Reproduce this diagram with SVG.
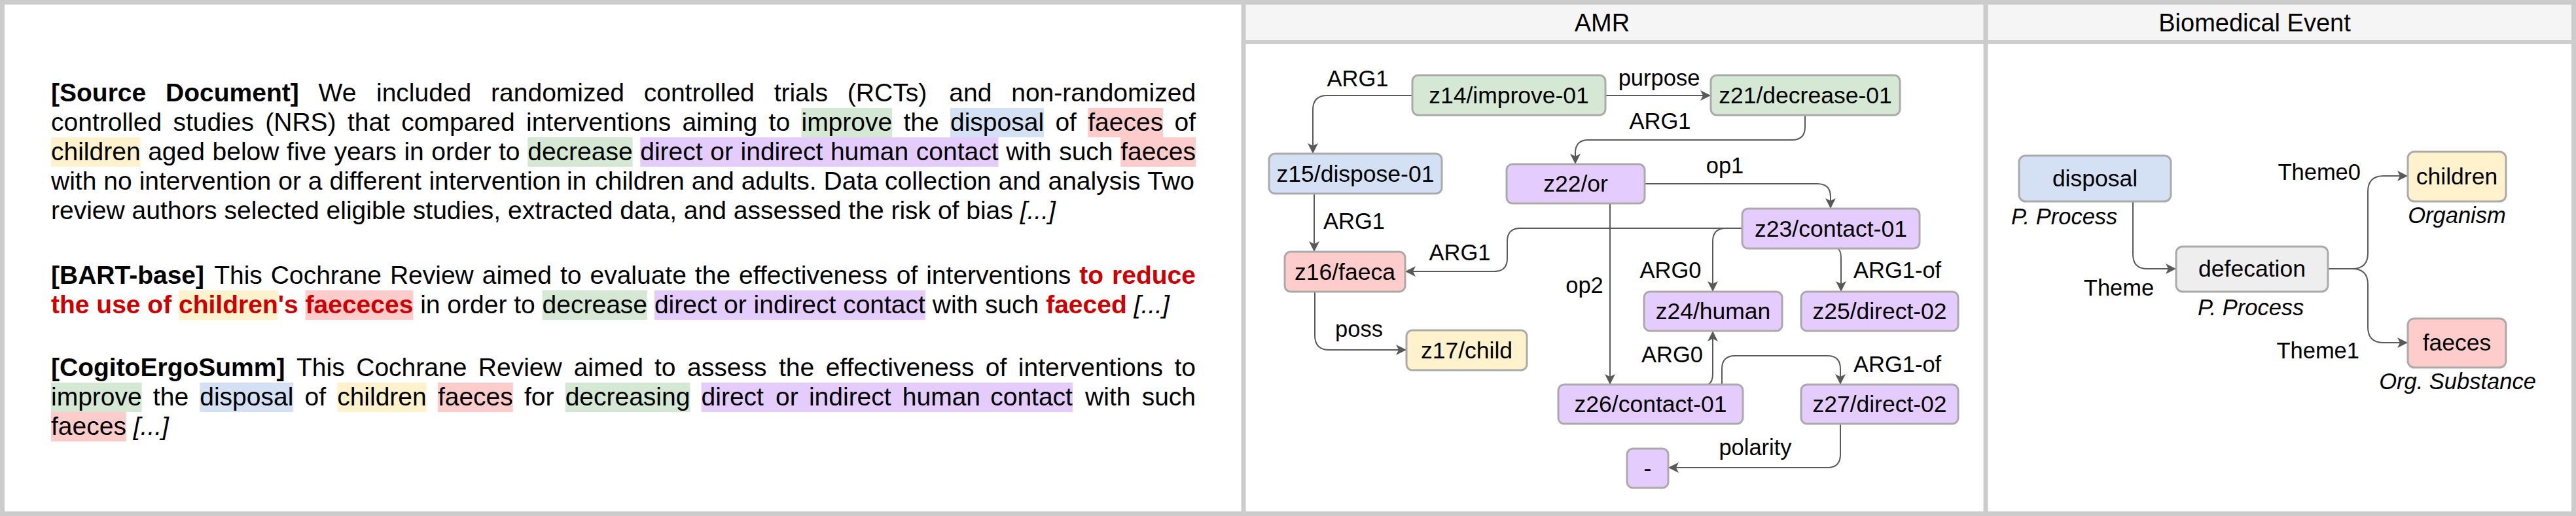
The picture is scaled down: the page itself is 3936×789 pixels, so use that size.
<svg xmlns="http://www.w3.org/2000/svg" width="3936" height="789" viewBox="0 0 3936 789">
<style>
.t{font-family:"Liberation Sans",Arial,sans-serif;font-size:39px;fill:#000}
.b{font-weight:bold}
.i{font-style:italic}
.red{fill:#cc0000;font-weight:bold}
.nt{font-family:"Liberation Sans",Arial,sans-serif;font-size:35.5px;fill:#000;text-anchor:middle}
.lb{font-family:"Liberation Sans",Arial,sans-serif;font-size:34.5px;fill:#000}
.mid{text-anchor:middle}
.end{text-anchor:end}
.hd{font-family:"Liberation Sans",Arial,sans-serif;font-size:38px;fill:#000;text-anchor:middle}
.node{stroke:#aaaaaa;stroke-width:3}
.edge{fill:none;stroke:#595959;stroke-width:2;marker-end:url(#arr)}
.g{fill:#d5e8d4}.bl{fill:#d4e1f5}.r{fill:#ffcccc}.y{fill:#fff2cc}.p{fill:#e5ccff}.gr{fill:#eeeeee}
</style>
<defs>
<marker id="arr" viewBox="0 0 16 16" refX="16" refY="8" markerWidth="16" markerHeight="16" markerUnits="userSpaceOnUse" orient="auto"><path d="M0,0 L16,8 L0,16 L4,8 Z" fill="#595959"/></marker>
</defs>
<rect x="0" y="0" width="3936" height="789" fill="#ffffff"/>
<rect x="1903" y="7" width="2027" height="54" fill="#f5f5f5"/>
<g id="frame" fill="none" stroke="#cccccc">
<rect x="3.5" y="3.5" width="3929" height="782" stroke-width="7"/>
<line x1="1900" y1="0" x2="1900" y2="789" stroke-width="7"/>
<line x1="3034" y1="0" x2="3034" y2="789" stroke-width="7"/>
<line x1="1900" y1="64" x2="3936" y2="64" stroke-width="6"/>
</g>
<text class="hd" x="2448" y="48">AMR</text>
<text class="hd" x="3445" y="48">Biomedical Event</text>

<g id="text-panel">
<g id="highlights">
<rect class="g" x="1224.48" y="165" width="138.68" height="45"/>
<rect class="bl" x="1452.03" y="165" width="143.05" height="45"/>
<rect class="r" x="1662.27" y="165" width="114.89" height="45"/>
<rect class="y" x="78" y="210" width="136.54" height="45"/>
<rect class="g" x="806.21" y="210" width="160.41" height="45"/>
<rect class="p" x="978.26" y="210" width="547.25" height="45"/>
<rect class="r" x="1712.14" y="210" width="114.89" height="45"/>
<rect class="y" x="273.04" y="444" width="151.71" height="45"/>
<rect class="r" x="466.56" y="444" width="164.78" height="45"/>
<rect class="g" x="828.60" y="444" width="160.41" height="45"/>
<rect class="p" x="999.85" y="444" width="413.99" height="45"/>
<rect class="g" x="78" y="585" width="138.68" height="45"/>
<rect class="bl" x="305.24" y="585" width="143.05" height="45"/>
<rect class="y" x="515.17" y="585" width="136.54" height="45"/>
<rect class="r" x="668.88" y="585" width="114.89" height="45"/>
<rect class="g" x="863.64" y="585" width="190.75" height="45"/>
<rect class="p" x="1071.56" y="585" width="567.40" height="45"/>
<rect class="r" x="78" y="630" width="114.89" height="45"/>
</g>
<g id="source">
<text class="t" y="155"><tspan x="78" class="b">[Source</tspan><tspan x="253.07" class="b">Document]</tspan><tspan x="486.60">We</tspan><tspan x="574.97">included</tspan><tspan x="750.08">randomized</tspan><tspan x="983.69">controlled</tspan><tspan x="1182.63">trials</tspan><tspan x="1294.83">(RCTs)</tspan><tspan x="1450.32">and</tspan><tspan x="1545.24">non-randomized</tspan></text>
<text class="t" y="200"><tspan x="78">controlled</tspan><tspan x="264.40">studies</tspan><tspan x="405.28">(NRS)</tspan><tspan x="530.91">that</tspan><tspan x="613.29">compared</tspan><tspan x="804.01">interventions</tspan><tspan x="1042.43">aiming</tspan><tspan x="1174.62">to</tspan><tspan x="1224.48">improve</tspan><tspan x="1380.49">the</tspan><tspan x="1452.03">disposal</tspan><tspan x="1612.41">of</tspan><tspan x="1662.27">faeces</tspan><tspan x="1794.49">of</tspan></text>
<text class="t" y="245"><tspan x="78">children</tspan><tspan x="226.18">aged</tspan><tspan x="324.56">below</tspan><tspan x="438.07">five</tspan><tspan x="510.39">years</tspan><tspan x="617.39">in</tspan><tspan x="659.37">order</tspan><tspan x="762.04">to</tspan><tspan x="806.21">decrease</tspan><tspan x="978.26">direct</tspan><tspan x="1085.26">or</tspan><tspan x="1131.57">indirect</tspan><tspan x="1268.91">human</tspan><tspan x="1399.77">contact</tspan><tspan x="1537.15">with</tspan><tspan x="1618.13">such</tspan><tspan x="1712.14">faeces</tspan></text>
<text class="t" y="290"><tspan x="78">with</tspan><tspan x="158.31">no</tspan><tspan x="212.64">intervention</tspan><tspan x="425.20">or</tspan><tspan x="470.84">a</tspan><tspan x="503.50">different</tspan><tspan x="655.39">intervention</tspan><tspan x="865.92">in</tspan><tspan x="909.24">children</tspan><tspan x="1056.74">and</tspan><tspan x="1132.76">adults.</tspan><tspan x="1258.62">Data</tspan><tspan x="1351.95">collection</tspan><tspan x="1525.47">and</tspan><tspan x="1601.49">analysis</tspan><tspan x="1753.33">Two</tspan></text>
<text class="t" x="78" y="335">review authors selected eligible studies, extracted data, and assessed the risk of bias <tspan class="i">[...]</tspan></text>
</g>
<g id="bart">
<text class="t" y="434"><tspan x="78" class="b">[BART-base]</tspan><tspan x="327.15">This</tspan><tspan x="413.82">Cochrane</tspan><tspan x="595.88">Review</tspan><tspan x="736.72">aimed</tspan><tspan x="855.92">to</tspan><tspan x="901.45">evaluate</tspan><tspan x="1061.87">the</tspan><tspan x="1129.07">effectiveness</tspan><tspan x="1369.68">of</tspan><tspan x="1415.21">interventions</tspan><tspan x="1649.30" class="red">to</tspan><tspan x="1699.11" class="red">reduce</tspan></text>
<text class="t" x="78" y="479"><tspan class="red">the use of children's faececes</tspan> in order to decrease direct or indirect contact with such <tspan class="red">faeced</tspan> <tspan class="i">[...]</tspan></text>
</g>
<g id="cogito">
<text class="t" y="575"><tspan x="78" class="b">[CogitoErgoSumm]</tspan><tspan x="453.01">This</tspan><tspan x="544.22">Cochrane</tspan><tspan x="730.81">Review</tspan><tspan x="876.66">aimed</tspan><tspan x="999.93">to</tspan><tspan x="1050.00">assess</tspan><tspan x="1189.91">the</tspan><tspan x="1261.66">effectiveness</tspan><tspan x="1505.78">of</tspan><tspan x="1555.84">interventions</tspan><tspan x="1794.47">to</tspan></text>
<text class="t" y="620"><tspan x="78">improve</tspan><tspan x="233.86">the</tspan><tspan x="305.24">disposal</tspan><tspan x="465.47">of</tspan><tspan x="515.17">children</tspan><tspan x="668.88">faeces</tspan><tspan x="800.95">for</tspan><tspan x="863.64">decreasing</tspan><tspan x="1071.56">direct</tspan><tspan x="1185.09">or</tspan><tspan x="1235.93">indirect</tspan><tspan x="1378.80">human</tspan><tspan x="1513.22">contact</tspan><tspan x="1658.11">with</tspan><tspan x="1744.63">such</tspan></text>
<text class="t" x="78" y="665">faeces <tspan class="i">[...]</tspan></text>
</g>
</g>

<g id="connectors">
<path class="edge" d="M2158,146 H2028 Q2006,146 2006,168 V235"/>
<path class="edge" d="M2453,146 H2614"/>
<path class="edge" d="M2758,176 V194 Q2758,214 2738,214 H2427 Q2407,214 2407,234 V251"/>
<path class="edge" d="M2008,296 V385"/>
<path class="edge" d="M2513,281 H2777 Q2797,281 2797,301 V319"/>
<path class="edge" d="M2460,311 V588"/>
<path class="edge" d="M2662,349 H2323 Q2303,349 2303,369 V395 Q2303,415 2283,415 H2147"/>
<path class="edge" d="M2662,349 H2637 Q2617,349 2617,369 V446"/>
<path class="edge" d="M2808,380 Q2813,383 2813,395 V446"/>
<path class="edge" d="M2009,446 V513 Q2009,535 2031,535 H2149"/>
<path class="edge" d="M2610,588 Q2617,584 2617,572 V506"/>
<path class="edge" d="M2631,588 V564 Q2631,544 2651,544 H2792 Q2812,544 2812,564 V588"/>
<path class="edge" d="M2812,648 V695 Q2812,715 2792,715 H2549"/>
<path class="edge" d="M3259,308 V389 Q3259,411 3281,411 H3325"/>
<path class="edge" d="M3557,411 H3594 Q3618,411 3618,387 V293 Q3618,269 3642,269 H3679"/>
<path class="edge" d="M3557,411 H3594 Q3618,411 3618,435 V500 Q3618,524 3642,524 H3679"/>
<text class="lb mid" x="2074.5" y="132">ARG1</text>
<text class="lb mid" x="2535" y="131">purpose</text>
<text class="lb mid" x="2536.5" y="197">ARG1</text>
<text class="lb mid" x="2069" y="350">ARG1</text>
<text class="lb mid" x="2635.5" y="265">op1</text>
<text class="lb mid" x="2421" y="448">op2</text>
<text class="lb mid" x="2230.5" y="398">ARG1</text>
<text class="lb mid" x="2552.5" y="425">ARG0</text>
<text class="lb" x="2832" y="425">ARG1-of</text>
<text class="lb mid" x="2076.5" y="515">poss</text>
<text class="lb mid" x="2555" y="554">ARG0</text>
<text class="lb" x="2832" y="569">ARG1-of</text>
<text class="lb mid" x="2682" y="696">polarity</text>
<text class="lb mid" x="3237.5" y="452">Theme</text>
<text class="lb end" x="3607" y="275">Theme0</text>
<text class="lb end" x="3605" y="548">Theme1</text>
</g>

<g id="z14"><rect class="node g" x="2158" y="115" width="295" height="61" rx="9"/><text class="nt" x="2305.5" y="157.5">z14/improve-01</text></g>
<g id="z21"><rect class="node g" x="2614" y="115" width="289" height="61" rx="9"/><text class="nt" x="2758.5" y="157.5">z21/decrease-01</text></g>
<g id="z15"><rect class="node bl" x="1939" y="235" width="264" height="61" rx="9"/><text class="nt" x="2071" y="277.5">z15/dispose-01</text></g>
<g id="z22"><rect class="node p" x="2302" y="251" width="211" height="60" rx="9"/><text class="nt" x="2407.5" y="293">z22/or</text></g>
<g id="z23"><rect class="node p" x="2662" y="319" width="271" height="61" rx="9"/><text class="nt" x="2797.5" y="361.5">z23/contact-01</text></g>
<g id="z16"><rect class="node r" x="1963" y="385" width="184" height="61" rx="9"/><text class="nt" x="2055" y="427.5">z16/faeca</text></g>
<g id="z17"><rect class="node y" x="2149" y="505" width="184" height="61" rx="9"/><text class="nt" x="2241" y="547.5">z17/child</text></g>
<g id="z24"><rect class="node p" x="2512" y="446" width="211" height="60" rx="9"/><text class="nt" x="2617.5" y="488">z24/human</text></g>
<g id="z25"><rect class="node p" x="2752" y="446" width="240" height="60" rx="9"/><text class="nt" x="2872" y="488">z25/direct-02</text></g>
<g id="z26"><rect class="node p" x="2381" y="588" width="282" height="60" rx="9"/><text class="nt" x="2522" y="630">z26/contact-01</text></g>
<g id="z27"><rect class="node p" x="2752" y="588" width="240" height="60" rx="9"/><text class="nt" x="2872" y="630">z27/direct-02</text></g>
<g id="polarity-minus"><rect class="node p" x="2486" y="686" width="63" height="60" rx="9"/><text class="nt" x="2517.5" y="728">-</text></g>

<g id="disposal"><rect class="node bl" x="3085" y="238" width="232" height="70" rx="10"/><text class="nt" x="3201" y="284.5">disposal</text><text class="lb i" x="3073" y="343">P. Process</text></g>
<g id="defecation"><rect class="node gr" x="3325" y="377" width="232" height="69" rx="10"/><text class="nt" x="3441" y="422.5">defecation</text><text class="lb i" x="3358" y="482">P. Process</text></g>
<g id="children"><rect class="node y" x="3679" y="232" width="150" height="76" rx="10"/><text class="nt" x="3754" y="281.5">children</text><text class="lb i mid" x="3754" y="341">Organism</text></g>
<g id="faeces"><rect class="node r" x="3679" y="487" width="150" height="75" rx="10"/><text class="nt" x="3754" y="536">faeces</text><text class="lb i mid" x="3755" y="595">Org. Substance</text></g>
</svg>
